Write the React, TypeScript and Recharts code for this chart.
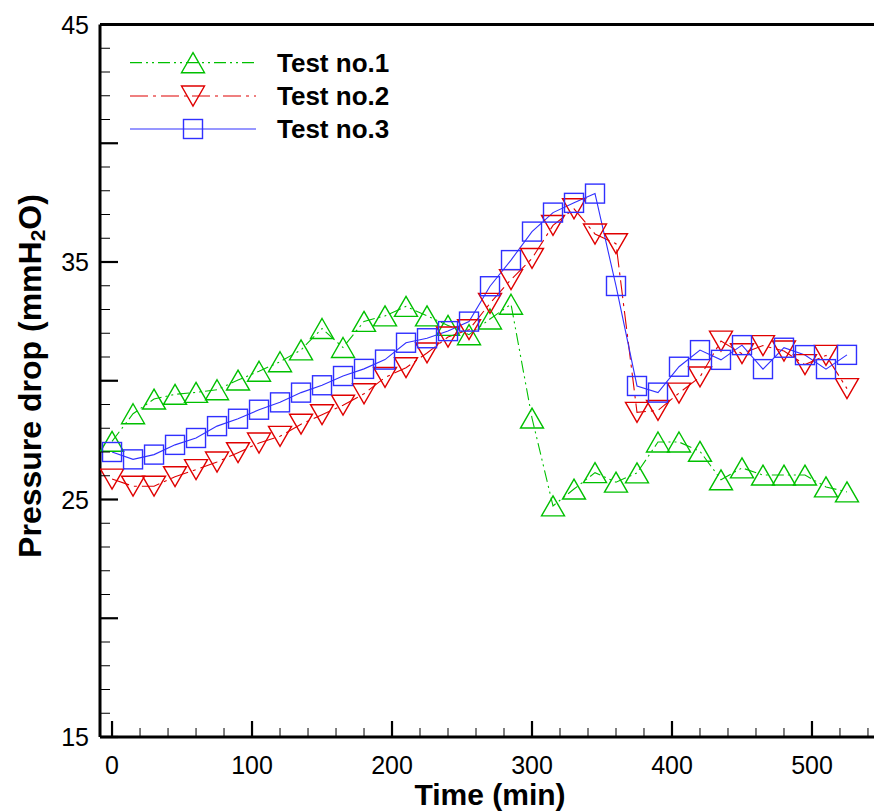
import { LineChart, Line, XAxis, YAxis, ReferenceLine, Legend } from 'recharts'

const time = [0, 15, 30, 45, 60, 75, 90, 105, 120, 135, 150, 165, 180, 195, 210, 225, 240, 255,
  270, 285, 300, 315, 330, 345, 360, 375, 390, 405, 420, 435, 450, 465, 480, 495, 510, 525]

const test1 = [27.45, 28.61, 29.23, 29.43, 29.51, 29.62, 30.03, 30.4, 30.8, 31.3, 32.2, 31.4, 32.5, 32.73,
  33.13, 32.73, 32.33, 31.94, 32.6, 33.22, 28.43, 24.73, 25.44, 26.13, 25.73, 26.12, 27.42, 27.42,
  27.03, 25.83, 26.33, 26.03, 26.03, 26.03, 25.53, 25.32]

const test2 = [25.86, 25.56, 25.56, 25.96, 26.26, 26.58, 26.97, 27.38, 27.66, 28.17, 28.57, 28.97, 29.45,
  30.14, 30.55, 31.17, 31.84, 32.15, 33.26, 34.26, 35.15, 36.54, 37.24, 36.18, 35.77, 28.67, 28.75,
  29.48, 30.16, 31.67, 31.14, 31.48, 31.25, 30.68, 31.07, 29.67]

const test3 = [27.0, 26.69, 26.89, 27.3, 27.59, 28.09, 28.4, 28.78, 29.09, 29.5, 29.81, 30.2, 30.5, 30.89,
  31.6, 31.79, 32.09, 32.49, 33.98, 35.08, 36.28, 37.08, 37.49, 37.88, 33.99, 29.78, 29.5, 30.59,
  31.29, 30.88, 31.5, 30.49, 31.39, 31.08, 30.49, 31.09]

const xTicks = [0, 20, 40, 60, 80, 100, 120, 140, 160, 180, 200, 220, 240, 260, 280, 300, 320, 340,
  360, 380, 400, 420, 440, 460, 480, 500, 520, 540]
const xLabels = [0, 100, 200, 300, 400, 500]

const yTicks = [15, 16, 17, 18, 19, 20, 21, 22, 23, 24, 25, 26, 27, 28, 29, 30, 31, 32, 33, 34, 35,
  36, 37, 38, 39, 40, 41, 42, 43, 44, 45]
const yMajors = [15, 20, 25, 30, 35, 40, 45]
const yLabels = [15, 25, 35, 45]

const FONT = '"Liberation Sans", Arial, Helvetica, sans-serif'

const series = [
  { key: 'test1', name: 'Test no.1', color: '#00c000', dash: '12 4 2 4 2 4', marker: 'up' },
  { key: 'test2', name: 'Test no.2', color: '#e00000', dash: '18 5 3 5', marker: 'down' },
  { key: 'test3', name: 'Test no.3', color: '#3030ff', dash: undefined, marker: 'square' },
]

const data = time.map((t, i) => ({ time: t, test1: test1[i], test2: test2[i], test3: test3[i] }))

function Marker({ kind, cx, cy, color }: { kind: string; cx: number; cy: number; color: string }) {
  if (kind === 'square') {
    return <rect x={cx - 9.5} y={cy - 9.5} width={19} height={19} fill="none" stroke={color} strokeWidth={1.4} />
  }
  const w = 11.5
  const h = 10
  const d = kind === 'up'
    ? `M${cx},${cy - h} L${cx + w},${cy + h} L${cx - w},${cy + h} Z`
    : `M${cx - w},${cy - h} L${cx + w},${cy - h} L${cx},${cy + h} Z`
  return <path d={d} fill="none" stroke={color} strokeWidth={1.4} />
}

const makeDot = (kind: string, color: string) => (props: any) => {
  const { cx, cy, index } = props
  if (cx == null || cy == null) return <g key={index} />
  return <g key={index}><Marker kind={kind} cx={cx} cy={cy} color={color} /></g>
}

function XTick({ x, y, payload }: any) {
  const v = payload.value
  const major = xLabels.includes(v)
  return (
    <g>
      <line x1={x} x2={x} y1={y} y2={y - (major ? 16 : 9)} stroke="#000" strokeWidth={major ? 2.2 : 1} />
      {major && (
        <text x={x} y={y + 28} textAnchor="middle" dominantBaseline="central" fontSize={25} fontFamily={FONT} fill="#000">
          {v}
        </text>
      )}
    </g>
  )
}

function YTick({ x, y, payload }: any) {
  const v = payload.value
  const major = yMajors.includes(v)
  return (
    <g>
      <line x1={x} x2={x + (major ? 18 : 10)} y1={y} y2={y} stroke="#000" strokeWidth={major ? 2.2 : 1} />
      {yLabels.includes(v) && (
        <text x={x - 11} y={y} textAnchor="end" dominantBaseline="central" fontSize={25} fontFamily={FONT} fill="#000">
          {v}
        </text>
      )}
    </g>
  )
}

function LegendBox() {
  const rows = [62.7, 96, 129]
  return (
    <svg width={420} height={150} style={{ display: 'block' }}>
      {series.map((s, i) => (
        <g key={s.key}>
          <line x1={130} x2={256} y1={rows[i]} y2={rows[i]} stroke={s.color} strokeWidth={1.2} strokeDasharray={s.dash} />
          <Marker kind={s.marker} cx={193} cy={rows[i]} color={s.color} />
          <text x={277} y={rows[i]} dominantBaseline="central" fontSize={26} fontWeight="bold" fontFamily={FONT} fill="#000">
            {s.name}
          </text>
        </g>
      ))}
    </svg>
  )
}

export default function App() {
  return (
    <div style={{ position: 'absolute', left: 0, top: 0, width: 874, height: 812, overflow: 'hidden', background: '#fff' }}>
      <LineChart width={874} height={812} data={data} margin={{ top: 24.5, right: 0, bottom: 0, left: 0 }}>
        <XAxis
          dataKey="time" type="number" domain={[-8.6, 544.3]} allowDataOverflow ticks={xTicks} interval={0}
          height={75} tickSize={0} tickMargin={0} tickLine={false} axisLine={{ stroke: '#000', strokeWidth: 3 }}
          tick={<XTick />}
        />
        <YAxis
          type="number" domain={[15, 45]} allowDataOverflow ticks={yTicks} interval={0}
          width={100} tickSize={0} tickMargin={0} tickLine={false} axisLine={{ stroke: '#000', strokeWidth: 3 }}
          tick={<YTick />}
        />
        <ReferenceLine y={45} stroke="#000" strokeWidth={3} />
        <Legend
          layout="horizontal" verticalAlign="middle" align="center"
          wrapperStyle={{ position: 'absolute', left: 0, top: 0, width: 420, height: 150 }}
          content={() => <LegendBox />}
        />
        {series.map((s) => (
          <Line
            key={s.key} type="linear" dataKey={s.key} name={s.name} stroke={s.color} strokeWidth={1.1}
            strokeDasharray={s.dash} dot={makeDot(s.marker, s.color)} activeDot={false}
            isAnimationActive={false}
          />
        ))}
      </LineChart>
      <svg width={874} height={812} style={{ position: 'absolute', left: 0, top: 0, pointerEvents: 'none' }}>
        <text x={490} y={794} textAnchor="middle" dominantBaseline="central" fontSize={30} fontWeight="bold" fontFamily={FONT} fill="#000">
          Time (min)
        </text>
        <text
          transform="translate(30,376) rotate(-90)" textAnchor="middle" dominantBaseline="central"
          fontSize={32} fontWeight="bold" fontFamily={FONT} fill="#000"
        >
          <tspan>Pressure drop (mmH</tspan>
          <tspan fontSize={21} dy={7}>2</tspan>
          <tspan dy={-7}>O)</tspan>
        </text>
      </svg>
    </div>
  )
}
